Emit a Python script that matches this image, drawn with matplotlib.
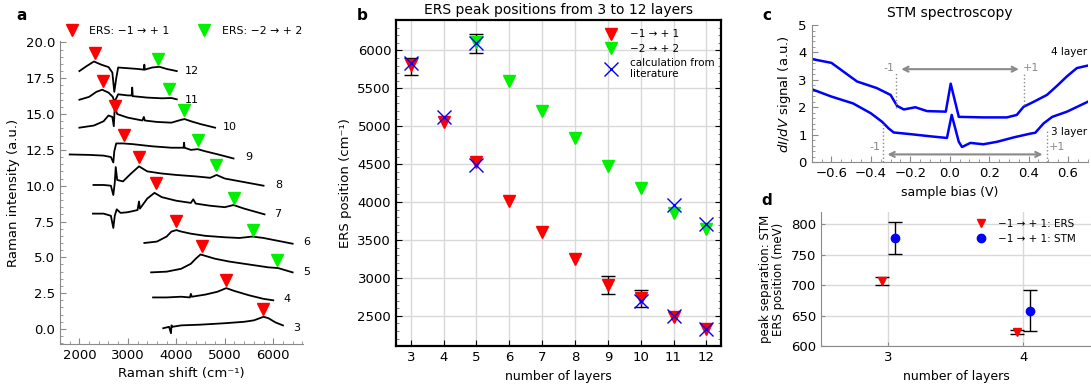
import matplotlib
matplotlib.use("Agg")
import matplotlib.pyplot as plt
from matplotlib.ticker import AutoMinorLocator, MultipleLocator

plt.rcParams['font.family'] = ['DejaVu Sans']
plt.rcParams['font.size'] = 9

RED = '#ff0000'
GREEN = '#00f000'
BLUE = '#0000ff'
GREY = '#8a8a8a'

# ---- panel a: Raman spectra (offset) ----
shift_12 = [2000, 2150, 2300, 2450, 2600, 2680, 2720, 2760, 2800, 3000, 3200, 3330, 3340, 3350, 3500, 3650, 3800, 4010]
inten_12 = [18.0, 18.35, 18.67, 18.45, 18.28, 17.9, 16.55, 17.5, 18.25, 18.2, 18.15, 18.1, 18.45, 18.1, 18.25, 18.3, 18.15, 18.0]
shift_11 = [2000, 2200, 2350, 2470, 2600, 2690, 2720, 2760, 2800, 3000, 3080, 3090, 3100, 3400, 3700, 3900, 4010]
inten_11 = [16.0, 16.2, 16.55, 16.7, 16.5, 16.2, 15.85, 16.1, 16.38, 16.3, 16.3, 16.85, 16.25, 16.15, 16.1, 16.12, 16.03]
shift_10 = [2000, 2300, 2500, 2600, 2680, 2710, 2730, 2780, 3000, 3300, 3330, 3350, 3600, 3900, 4100, 4170, 4300, 4500, 4800]
inten_10 = [14.05, 14.2, 14.5, 14.9, 14.8, 14.15, 15.5, 15.0, 14.75, 14.55, 14.8, 14.55, 14.45, 14.4, 14.6, 14.65, 14.5, 14.3, 14.05]
shift_9 = [1800, 2200, 2500, 2650, 2700, 2720, 2760, 2900, 3100, 3500, 3900, 4150, 4160, 4170, 4300, 4440, 4600, 4900, 5180]
inten_9 = [12.18, 12.15, 12.1, 12.0, 11.62, 12.4, 12.95, 12.95, 12.9, 12.75, 12.65, 12.65, 13.0, 12.65, 12.5, 12.55, 12.4, 12.15, 11.9]
shift_8 = [2290, 2500, 2650, 2700, 2730, 2750, 2780, 2900, 3050, 3230, 3400, 3700, 4000, 4400, 4700, 4830, 5000, 5400, 5800]
inten_8 = [10.05, 10.05, 10.0, 9.35, 10.2, 11.3, 10.4, 10.3, 10.8, 11.35, 11.0, 10.85, 10.75, 10.65, 10.55, 10.75, 10.5, 10.25, 10.0]
shift_7 = [2280, 2500, 2650, 2700, 2730, 2770, 2850, 3000, 3200, 3230, 3250, 3400, 3550, 3700, 4000, 4300, 4350, 4400, 4700, 5000, 5180, 5400, 5820]
inten_7 = [8.05, 8.05, 7.9, 7.05, 7.9, 8.35, 8.1, 8.15, 8.3, 8.9, 8.4, 9.1, 9.5, 9.2, 8.95, 8.8, 9.05, 8.75, 8.6, 8.5, 8.65, 8.4, 8.0]
shift_6 = [3340, 3600, 3800, 3900, 4000, 4100, 4300, 4600, 5000, 5300, 5570, 5800, 6100, 6400]
inten_6 = [6.0, 6.1, 6.45, 6.8, 6.9, 6.8, 6.65, 6.5, 6.4, 6.35, 6.45, 6.35, 6.15, 5.95]
shift_5 = [3480, 3800, 4100, 4300, 4400, 4500, 4600, 4800, 5100, 5500, 5900, 6100, 6400]
inten_5 = [3.95, 4.0, 4.2, 4.55, 4.9, 5.2, 5.1, 4.9, 4.7, 4.5, 4.3, 4.25, 3.95]
shift_4 = [3520, 3800, 4100, 4280, 4300, 4320, 4600, 4850, 5030, 5200, 5500, 5800, 6000]
inten_4 = [2.2, 2.2, 2.25, 2.2, 2.45, 2.25, 2.4, 2.6, 2.85, 2.65, 2.35, 2.1, 2.0]
shift_3 = [3730, 3850, 3890, 3900, 3920, 4100, 4500, 5000, 5400, 5600, 5800, 5900, 6050, 6200]
inten_3 = [0.05, 0.15, -0.3, 0.25, 0.15, 0.25, 0.3, 0.4, 0.5, 0.6, 0.85, 0.75, 0.45, 0.25]

spec_layers = [12, 11, 10, 9, 8, 7, 6, 5, 4, 3]
label_x = [4320, 4320, 5110, 5490, 6110, 6090, 6690, 6690, 6280, 6490]
label_y = [18.0, 16.0, 14.1, 12.0, 10.05, 8.05, 6.1, 4.0, 2.1, 0.1]

mark1_x = [2316, 2480, 2728, 2914, 3237, 3588, 4000, 4528, 5031, 5794]
mark1_y = [19.28, 17.28, 15.54, 13.53, 11.97, 10.17, 7.56, 5.81, 3.44, 1.37]
mark2_x = [3623, 3841, 4165, 4443, 4825, 5182, 5575, 6074]
mark2_y = [18.86, 16.77, 15.26, 13.18, 11.43, 9.12, 6.94, 4.81]

# ---- panel b: peak positions ----
layers = [3, 4, 5, 6, 7, 8, 9, 10, 11, 12]
ers_1 = [5810, 5050, 4530, 4020, 3600, 3245, 2910, 2730, 2490, 2320]
layers_2 = [5, 6, 7, 8, 9, 10, 11, 12]
ers_2 = [6110, 5590, 5195, 4850, 4470, 4185, 3860, 3640]
calc_layers = [3, 4, 5, 5, 10, 11, 11, 12, 12]
calc_pos = [5830, 5120, 4490, 6100, 2700, 2500, 3965, 2320, 3710]
err_layers = [3, 5, 9, 10]
err_center = [5810, 6110, 2910, 2730]
err_low = [5670, 5965, 2785, 2620]
err_high = [5900, 6210, 3020, 2840]

# ---- panel c: STM spectra ----
bias_4 = [-0.70, -0.60, -0.47, -0.37, -0.30, -0.267, -0.233, -0.174, -0.115, -0.02, 0.005, 0.046, 0.17, 0.29, 0.34, 0.375, 0.426, 0.493, 0.544, 0.595, 0.645, 0.70]
didv_4 = [3.76, 3.62, 2.94, 2.70, 2.45, 2.05, 1.92, 2.00, 1.86, 1.84, 2.86, 1.65, 1.63, 1.63, 1.72, 2.02, 2.20, 2.45, 2.78, 3.13, 3.43, 3.52]
bias_3 = [-0.70, -0.60, -0.49, -0.40, -0.343, -0.31, -0.284, -0.20, -0.098, -0.014, 0.01, 0.046, 0.0625, 0.105, 0.17, 0.24, 0.324, 0.41, 0.434, 0.476, 0.52, 0.595, 0.70]
didv_3 = [2.66, 2.39, 2.14, 1.78, 1.47, 1.23, 1.08, 1.02, 0.94, 0.88, 1.72, 0.74, 0.55, 0.70, 0.65, 0.74, 0.90, 1.04, 1.07, 1.41, 1.65, 1.84, 2.20]

# ---- panel d: ERS vs STM ----
d_layers = [3, 4]
d_ers = [707, 623]
d_ers_err = [7, 3]
d_stm = [777, 658]
d_stm_err = [26, 34]

fig = plt.figure(figsize=(10.91, 3.85), dpi=100)

# ================= a =================
ax_a = fig.add_axes([0.055, 0.1065, 0.223, 0.787])
spectra = [(shift_12, inten_12), (shift_11, inten_11), (shift_10, inten_10), (shift_9, inten_9),
           (shift_8, inten_8), (shift_7, inten_7), (shift_6, inten_6), (shift_5, inten_5),
           (shift_4, inten_4), (shift_3, inten_3)]
for (sx, sy), n, lx, ly in zip(spectra, spec_layers, label_x, label_y):
    ax_a.plot(sx, sy, color='black', lw=1.3)
    ax_a.text(lx, ly, str(n), fontsize=8, ha='center', va='center', clip_on=False)
ax_a.plot(mark1_x, mark1_y, 'v', color=RED, ms=8, ls='none', label='ERS: \u22121 \u2192 + 1', clip_on=False)
ax_a.plot(mark2_x, mark2_y, 'v', color=GREEN, ms=8, ls='none', label='ERS: \u22122 \u2192 + 2', clip_on=False)
ax_a.set_xlim(1600, 6620)
ax_a.set_ylim(-1.05, 20.1)
ax_a.set_xticks([2000, 3000, 4000, 5000, 6000])
ax_a.set_yticks([0, 2.5, 5, 7.5, 10, 12.5, 15, 17.5, 20])
ax_a.set_yticklabels(['0.0', '2.5', '5.0', '7.5', '10.0', '12.5', '15.0', '17.5', '20.0'])
ax_a.xaxis.set_minor_locator(AutoMinorLocator(5))
ax_a.yaxis.set_minor_locator(AutoMinorLocator(5))
ax_a.tick_params(direction='in', which='both', color=GREY, labelsize=9.5)
ax_a.tick_params(which='major', length=4)
ax_a.tick_params(which='minor', length=2)
for s in ['top', 'right']:
    ax_a.spines[s].set_visible(False)
for s in ['left', 'bottom']:
    ax_a.spines[s].set_color(GREY)
ax_a.set_xlabel('Raman shift (cm\u207b\u00b9)', fontsize=9.5)
ax_a.set_ylabel('Raman intensity (a.u.)', fontsize=9.5)
ax_a.legend(loc='lower center', bbox_to_anchor=(0.5, 1.0), ncol=2, frameon=False,
            fontsize=7.8, handletextpad=0.6, columnspacing=2.2, borderaxespad=0.1)

# ================= b =================
ax_b = fig.add_axes([0.363, 0.101, 0.298, 0.847])
ax_b.grid(True, color='#d9d9d9', lw=1)
ax_b.set_axisbelow(True)
lower = [c - l for c, l in zip(err_center, err_low)]
upper = [h - c for c, h in zip(err_center, err_high)]
ax_b.errorbar(err_layers, err_center, yerr=[lower, upper], fmt='none', ecolor='black',
              elinewidth=1, capsize=5, capthick=1, zorder=2)
ax_b.plot(layers, ers_1, 'v', color=RED, ms=9, ls='none', label='\u22121 \u2192 + 1', zorder=3)
ax_b.plot(layers_2, ers_2, 'v', color=GREEN, ms=9, ls='none', label='\u22122 \u2192 + 2', zorder=3)
ax_b.plot(calc_layers, calc_pos, 'x', color=BLUE, ms=10, mew=1, ls='none',
          label='calculation from\nliterature', zorder=4)
ax_b.set_xlim(2.55, 12.45)
ax_b.set_ylim(2100, 6400)
ax_b.set_xticks(layers)
ax_b.set_yticks([2500, 3000, 3500, 4000, 4500, 5000, 5500, 6000])
ax_b.yaxis.set_minor_locator(MultipleLocator(100))
ax_b.tick_params(direction='in', which='both', right=True, labelsize=9.5)
ax_b.tick_params(which='major', length=4)
ax_b.tick_params(which='minor', length=2, color='#666666')
for s in ax_b.spines.values():
    s.set_linewidth(1.6)
ax_b.set_xlabel('number of layers', fontsize=9)
ax_b.set_ylabel('ERS position (cm\u207b\u00b9)', fontsize=9.5)
ax_b.set_title('ERS peak positions from 3 to 12 layers', fontsize=10, pad=4)
ax_b.legend(loc='upper left', bbox_to_anchor=(0.6, 1.0), frameon=False, fontsize=7.5,
            handletextpad=0.8, labelspacing=0.4)

# ================= c =================
ax_c = fig.add_axes([0.744, 0.579, 0.253, 0.356])
ax_c.plot(bias_4, didv_4, color=BLUE, lw=1.8)
ax_c.plot(bias_3, didv_3, color=BLUE, lw=1.8)
for vx, y0, y1 in [(-0.272, 1.96, 3.3), (0.375, 2.08, 3.3), (-0.34, 0.0, 1.47), (0.493, 0.0, 1.2)]:
    ax_c.plot([vx, vx], [y0, y1], color=GREY, lw=1, ls=':')
ax_c.annotate('', xy=(-0.26, 3.39), xytext=(0.365, 3.39),
              arrowprops=dict(arrowstyle='<->', color=GREY, lw=1.5))
ax_c.annotate('', xy=(-0.33, 0.28), xytext=(0.485, 0.28),
              arrowprops=dict(arrowstyle='<->', color=GREY, lw=1.5))
ax_c.text(-0.31, 3.43, '-1', color=GREY, fontsize=8, ha='center', va='center')
ax_c.text(0.41, 3.43, '+1', color=GREY, fontsize=8, ha='center', va='center')
ax_c.text(-0.38, 0.55, '-1', color=GREY, fontsize=8, ha='center', va='center')
ax_c.text(0.545, 0.55, '+1', color=GREY, fontsize=8, ha='center', va='center')
ax_c.text(0.605, 4.02, '4 layer', fontsize=7.5, ha='center', va='center')
ax_c.text(0.605, 1.1, '3 layer', fontsize=7.5, ha='center', va='center')
ax_c.set_xlim(-0.7, 0.7)
ax_c.set_ylim(0, 5)
ax_c.set_xticks([-0.6, -0.4, -0.2, 0.0, 0.2, 0.4, 0.6])
ax_c.set_yticks([0, 1, 2, 3, 4, 5])
ax_c.xaxis.set_minor_locator(AutoMinorLocator(4))
ax_c.yaxis.set_minor_locator(AutoMinorLocator(5))
ax_c.tick_params(direction='in', which='both', color=GREY, labelsize=9.5)
ax_c.tick_params(which='major', length=4)
ax_c.tick_params(which='minor', length=2)
for s in ['top', 'right']:
    ax_c.spines[s].set_visible(False)
for s in ['left', 'bottom']:
    ax_c.spines[s].set_color(GREY)
ax_c.set_xlabel('sample bias (V)', fontsize=9)
ax_c.set_ylabel('$dI/dV$ signal (a.u.)', fontsize=9.5)
ax_c.set_title('STM spectroscopy', fontsize=10, pad=6)

# ================= d =================
ax_d = fig.add_axes([0.7525, 0.101, 0.2475, 0.348])
ax_d.grid(True, color='#d9d9d9', lw=1)
ax_d.set_axisbelow(True)
x_ers = [v - 0.05 for v in d_layers]
x_stm = [v + 0.05 for v in d_layers]
ax_d.errorbar(x_ers, d_ers, yerr=d_ers_err, fmt='none', ecolor='black', elinewidth=1,
              capsize=5, capthick=1)
ax_d.errorbar(x_stm, d_stm, yerr=d_stm_err, fmt='none', ecolor='black', elinewidth=1,
              capsize=5, capthick=1)
ax_d.plot(x_ers, d_ers, 'v', color=RED, ms=6, ls='none', label='\u22121 \u2192 + 1: ERS', zorder=3)
ax_d.plot(x_stm, d_stm, 'o', color=BLUE, ms=6, ls='none', label='\u22121 \u2192 + 1: STM', zorder=3)
ax_d.set_xlim(2.5, 4.5)
ax_d.set_ylim(600, 820)
ax_d.set_xticks(d_layers)
ax_d.set_yticks([600, 650, 700, 750, 800])
ax_d.tick_params(direction='in', color=GREY, labelsize=9.5, length=3)
for s in ['top', 'right']:
    ax_d.spines[s].set_visible(False)
for s in ['left', 'bottom']:
    ax_d.spines[s].set_color(GREY)
ax_d.set_xlabel('number of layers', fontsize=9)
ax_d.set_ylabel('peak separation: STM\nERS position (meV)', fontsize=8.5, linespacing=1.0)
ax_d.legend(loc='upper left', bbox_to_anchor=(0.52, 1.02), frameon=False, fontsize=7.5,
            handletextpad=0.6, labelspacing=0.5)

# panel letters
for letter, (fx, fy) in zip('abcd', [(0.02, 0.96), (0.332, 0.96), (0.703, 0.96), (0.703, 0.48)]):
    fig.text(fx, fy, letter, fontsize=11, fontweight='bold', ha='center', va='center')

fig.savefig('out.png', dpi=100)
